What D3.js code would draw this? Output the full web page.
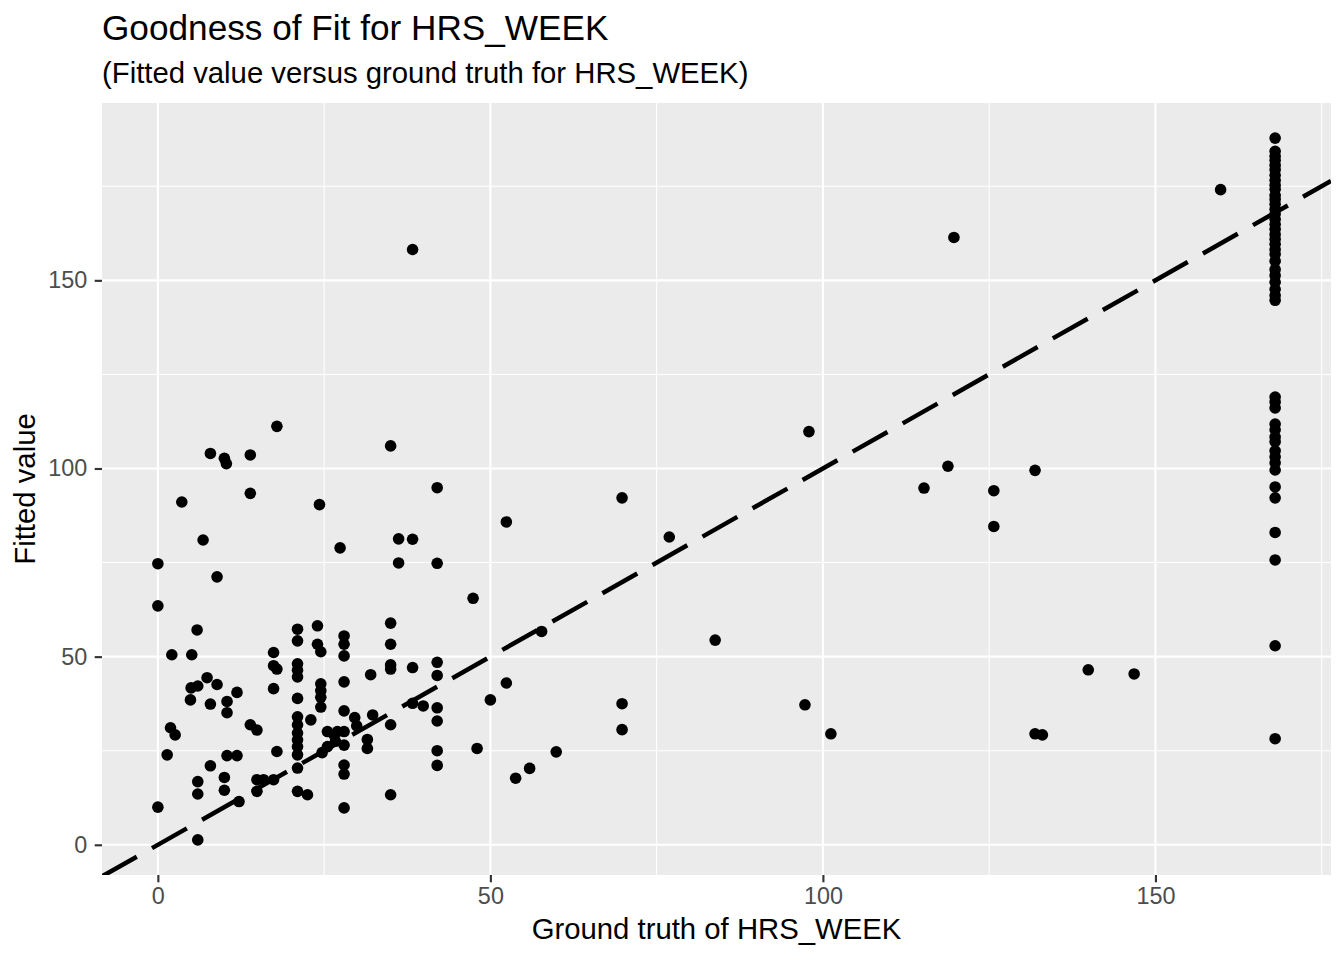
<!DOCTYPE html>
<html>
<head>
<meta charset="utf-8">
<script src="https://cdn.jsdelivr.net/npm/d3@7"></script>
<style>
  html, body { margin: 0; padding: 0; background: #fff; }
  svg text { font-family: "Liberation Sans", Arial, Helvetica, sans-serif; }
</style>
</head>
<body>
<svg id="chart"></svg>
<script>
/* ============================================================
   Goodness of fit – HRS_WEEK (fitted vs ground truth)
   ============================================================ */

// ─── Data ────────────────────────────────────────────────
const groundTruth = [
  0, 0, 0, 1.4, 1.9, 2.6, 2.1, 3.6, 5, 4.9, 5.1, 5.9, 6, 6, 6, 6, 6.8, 7.4,
  7.9, 7.9, 7.9, 8.9, 8.9, 10, 10.3, 10, 10, 10.4, 10.4, 10.4, 11.9, 11.9, 12.2,
  13.9, 13.9, 13.9, 14.9, 14.9, 14.9, 15.9, 17.4, 17.4, 17.4, 17.9, 17.4, 17.9, 17.9,
  21, 21, 21, 21, 21, 21, 21, 21, 21, 21, 21, 21, 21, 21, 22.5, 23,
  24, 24, 24.5, 24.3, 24.5, 24.5, 24.5, 24.5, 24.7, 25.5, 26.5, 25.5, 27.4,
  28, 28, 28, 28, 28, 28, 28, 28, 28, 28, 27, 26.7, 29.6, 29.9, 32.3, 32, 31.5, 31.5,
  35, 35, 35, 35, 35, 35, 35, 36.2, 36.2, 38.3, 38.3, 38.3, 38.3, 39.9,
  42, 42, 42, 42, 42, 42, 42, 42, 47.4, 48, 50, 52.4, 52.4, 53.8, 55.9, 57.7, 59.9,
  69.8, 69.8, 69.8, 76.9, 83.8, 97.3, 97.9, 101.2, 115.2, 118.8, 119.7, 125.7, 125.7,
  131.9, 131.9, 133, 139.9, 146.8, 159.8,
  // HRS_WEEK = 168 column
  168, 168, 168, 168, 168, 168, 168, 168, 168, 168, 168, 168, 168, 168, 168,
  168, 168, 168, 168, 168, 168, 168, 168, 168, 168, 168, 168, 168, 168, 168,
  168, 168, 168, 168, 168, 168, 168, 168, 168, 168, 168, 168, 168, 168, 168,
  168, 168
];

const fittedValue = [
  74.7, 63.5, 10.0, 23.9, 31.1, 29.2, 50.5, 91.1, 41.7, 38.5, 50.5, 57.1, 42.2, 16.8, 13.5, 1.3, 81.0, 44.4,
  104.0, 37.4, 21.0, 71.2, 42.6, 102.7, 101.3, 17.9, 14.5, 38.1, 35.1, 23.7, 40.5, 23.7, 11.5,
  103.6, 93.4, 31.9, 30.5, 17.3, 14.2, 17.3, 17.3, 51.1, 47.6, 46.7, 41.5, 111.2, 24.8,
  57.3, 54.2, 48.1, 46.4, 44.6, 38.9, 34.0, 31.9, 29.7, 27.9, 26.1, 23.9, 20.4, 14.2, 13.3, 33.2,
  58.2, 53.3, 51.3, 90.4, 42.8, 41.0, 39.2, 36.6, 24.5, 30.1, 29.2, 26.1, 78.9,
  55.5, 53.3, 50.2, 43.3, 35.6, 30.1, 26.5, 21.2, 18.8, 9.8, 30.1, 27.5, 33.8, 31.6, 34.5, 45.2, 28.0, 25.6,
  106.0, 58.9, 53.3, 47.8, 46.7, 31.9, 13.3, 81.3, 74.9, 158.2, 81.2, 47.1, 37.6, 36.9,
  94.9, 74.8, 48.5, 45.0, 36.4, 32.9, 25.0, 21.1, 65.5, 25.6, 38.5, 85.8, 43.0, 17.7, 20.3, 56.7, 24.7,
  92.2, 37.5, 30.6, 81.8, 54.4, 37.2, 109.8, 29.5, 94.8, 100.6, 161.4, 94.1, 84.6,
  99.5, 29.5, 29.2, 46.5, 45.4, 174.1,
  187.8, 184.3, 183.0, 181.9, 180.6, 179.4, 177.9, 176.6, 175.3, 174.2, 172.6, 171.5, 170.2, 168.9, 167.6,
  166.2, 164.9, 163.6, 162.2, 160.9, 159.6, 158.2, 156.9, 155.1, 152.9, 151.3, 149.5, 147.6, 146.0, 144.7,
  119.0, 117.7, 116.1, 111.8, 110.3, 108.4, 107.1, 104.7, 103.1, 101.5, 99.6, 95.1, 92.2, 83.0, 75.7,
  52.9, 28.2
];

const xTicks = [0, 50, 100, 150];
const yTicks = [0, 50, 100, 150];
const xMinor = [25, 75, 125, 175];
const yMinor = [25, 75, 125, 175];

const ChartModule = (() => {

  const W = 1344, H = 960;
  const panel = { left: 102, right: 1331, top: 103, bottom: 875 };

  function expand(ext) {
    // ggplot-style 5% expansion
    const pad = (ext[1] - ext[0]) * 0.05;
    return [ext[0] - pad, ext[1] + pad];
  }

  function render() {
    const svg = d3.select('#chart')
      .attr('width', W)
      .attr('height', H);

    svg.append('rect')
      .attr('width', W).attr('height', H)
      .attr('fill', '#ffffff');

    const x = d3.scaleLinear()
      .domain(expand(d3.extent(groundTruth)))
      .range([panel.left, panel.right]);

    const y = d3.scaleLinear()
      .domain(expand(d3.extent(fittedValue)))
      .range([panel.bottom, panel.top]);

    // ─── Panel background + grid ─────────────────────────
    svg.append('rect')
      .attr('x', panel.left).attr('y', panel.top)
      .attr('width', panel.right - panel.left)
      .attr('height', panel.bottom - panel.top)
      .attr('fill', '#EBEBEB');

    svg.append('clipPath').attr('id', 'panel-clip')
      .append('rect')
      .attr('x', panel.left).attr('y', panel.top)
      .attr('width', panel.right - panel.left)
      .attr('height', panel.bottom - panel.top);

    const grid = svg.append('g').attr('clip-path', 'url(#panel-clip)');

    grid.selectAll('.xminor').data(xMinor).enter().append('line')
      .attr('x1', d => x(d)).attr('x2', d => x(d))
      .attr('y1', panel.top).attr('y2', panel.bottom)
      .attr('stroke', '#fff').attr('stroke-width', 1.07);
    grid.selectAll('.yminor').data(yMinor).enter().append('line')
      .attr('y1', d => y(d)).attr('y2', d => y(d))
      .attr('x1', panel.left).attr('x2', panel.right)
      .attr('stroke', '#fff').attr('stroke-width', 1.07);
    grid.selectAll('.xmajor').data(xTicks).enter().append('line')
      .attr('x1', d => x(d)).attr('x2', d => x(d))
      .attr('y1', panel.top).attr('y2', panel.bottom)
      .attr('stroke', '#fff').attr('stroke-width', 2.13);
    grid.selectAll('.ymajor').data(yTicks).enter().append('line')
      .attr('y1', d => y(d)).attr('y2', d => y(d))
      .attr('x1', panel.left).attr('x2', panel.right)
      .attr('stroke', '#fff').attr('stroke-width', 2.13);

    // ─── Points ──────────────────────────────────────────
    const pts = groundTruth.map((g, i) => [g, fittedValue[i]]);
    svg.append('g').attr('clip-path', 'url(#panel-clip)')
      .selectAll('circle').data(pts).enter().append('circle')
      .attr('cx', d => x(d[0]))
      .attr('cy', d => y(d[1]))
      .attr('r', 5.8)
      .attr('fill', '#000');

    // ─── y = x reference line (dashed) ───────────────────
    const lo = x.domain()[0];
    const hi = x.domain()[1];
    svg.append('line')
      .attr('clip-path', 'url(#panel-clip)')
      .attr('x1', x(lo)).attr('y1', y(lo))
      .attr('x2', x(hi)).attr('y2', y(hi))
      .attr('stroke', '#000')
      .attr('stroke-width', 4.5)
      .attr('stroke-dasharray', '40,17.5');

    // ─── Axes ────────────────────────────────────────────
    const xAxis = svg.append('g')
      .attr('transform', `translate(0,${panel.bottom})`)
      .call(d3.axisBottom(x).tickValues(xTicks).tickSize(7.3).tickPadding(5));
    const yAxis = svg.append('g')
      .attr('transform', `translate(${panel.left},0)`)
      .call(d3.axisLeft(y).tickValues(yTicks).tickSize(7.3).tickPadding(7.5));

    [xAxis, yAxis].forEach(a => {
      a.select('.domain').remove();
      a.selectAll('.tick line').attr('stroke', '#333333').attr('stroke-width', 2.13);
      a.selectAll('.tick text')
        .attr('fill', '#4D4D4D')
        .style('font-size', '23.4px')
        .style('font-family', '"Liberation Sans", Arial, sans-serif');
    });

    // ─── Titles ──────────────────────────────────────────
    svg.append('text')
      .attr('x', panel.left).attr('y', 40)
      .attr('font-size', 35.2).attr('fill', '#000')
      .text('Goodness of Fit for HRS_WEEK');

    svg.append('text')
      .attr('x', panel.left).attr('y', 83)
      .attr('font-size', 29.3).attr('fill', '#000')
      .text('(Fitted value versus ground truth for HRS_WEEK)');

    svg.append('text')
      .attr('x', (panel.left + panel.right) / 2).attr('y', 939)
      .attr('text-anchor', 'middle')
      .attr('font-size', 29.3).attr('fill', '#000')
      .text('Ground truth of HRS_WEEK');

    svg.append('text')
      .attr('transform', `translate(35,${(panel.top + panel.bottom) / 2}) rotate(-90)`)
      .attr('text-anchor', 'middle')
      .attr('font-size', 29.3).attr('fill', '#000')
      .text('Fitted value');
  }

  return { render };
})();

ChartModule.render();
</script>
</body>
</html>
